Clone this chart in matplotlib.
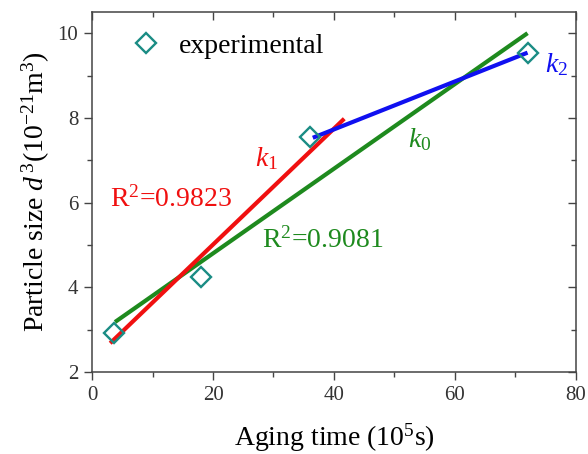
import numpy as np
import matplotlib
matplotlib.use("Agg")
import matplotlib.pyplot as plt
from matplotlib.ticker import MultipleLocator

plt.rcParams['font.family'] = ['Liberation Serif', 'DejaVu Serif']
plt.rcParams['mathtext.fontset'] = 'custom'
plt.rcParams['mathtext.rm'] = 'Liberation Serif'
plt.rcParams['mathtext.it'] = 'Liberation Serif:italic'

# experimental points
aging_time = [3.6, 18, 36, 72]
particle_size = [2.92, 4.24, 7.55, 9.53]

# fitted line end points
k0_x = [3.8, 72]
k0_y = [3.18, 10.0]
k1_x = [3.0, 41.7]
k1_y = [2.68, 7.98]
k2_x = [36.5, 72]
k2_y = [7.53, 9.54]

red = '#f01010'
green = '#1e8a1e'
blue = '#1010f0'
teal = '#1a8c84'

fig = plt.figure(figsize=(5.88, 4.54), dpi=100)
ax = fig.add_axes([0.1565, 0.1806, 0.823, 0.793])

ax.plot(k0_x, k0_y, color=green, lw=3, solid_capstyle='butt')
ax.plot(k1_x, k1_y, color=red, lw=3, solid_capstyle='butt')
ax.plot(k2_x, k2_y, color=blue, lw=3, solid_capstyle='butt')
ax.plot(aging_time, particle_size, linestyle='none', marker='D', ms=10.5,
        mfc='none', mec=teal, mew=1.7, label='experimental', zorder=5)

ax.set_xlim(0, 80)
ax.set_ylim(2, 10.5)
ax.xaxis.set_major_locator(MultipleLocator(20))
ax.xaxis.set_minor_locator(MultipleLocator(10))
ax.yaxis.set_major_locator(MultipleLocator(2))
ax.yaxis.set_minor_locator(MultipleLocator(1))
ax.tick_params(which='both', labelsize=15, color='#444444', width=1,
               labelcolor='#333333')
ax.tick_params(which='major', length=6, pad=4)
ax.tick_params(which='minor', length=3.5)
ax.tick_params(which='both', top=True, right=True)
for sp in ax.spines.values():
    sp.set_color('#444444')
    sp.set_linewidth(1.1)

# top/right ticks inward, left/bottom outward
for t in ax.xaxis.get_major_ticks() + ax.xaxis.get_minor_ticks():
    t.tick2line.set_marker(3)
for t in ax.yaxis.get_major_ticks() + ax.yaxis.get_minor_ticks():
    t.tick2line.set_marker(0)

ax.set_xlabel('Aging time (10$^{5}$s)', fontsize=20, labelpad=12)
ax.set_ylabel('Particle size $d^{\\,3}$(10$^{-21}$m$^{3}$)', fontsize=20, labelpad=4)

ax.legend(loc='upper left', frameon=False, fontsize=20, handletextpad=0.6,
          handlelength=1.2, bbox_to_anchor=(0.025, 1.01))

ax.text(3.0, 5.9, 'R$^{2}$=0.9823', color=red, fontsize=20)
ax.text(26.9, 6.85, '$k_{\\mathit{1}}$', color=red, fontsize=20)
ax.text(52.2, 7.32, '$k_{\\mathit{0}}$', color=green, fontsize=20)
ax.text(28.1, 4.93, 'R$^{2}$=0.9081', color=green, fontsize=20)
ax.text(74.9, 9.09, '$k_{\\mathit{2}}$', color=blue, fontsize=20)

fig.savefig('out.png', dpi=100)
